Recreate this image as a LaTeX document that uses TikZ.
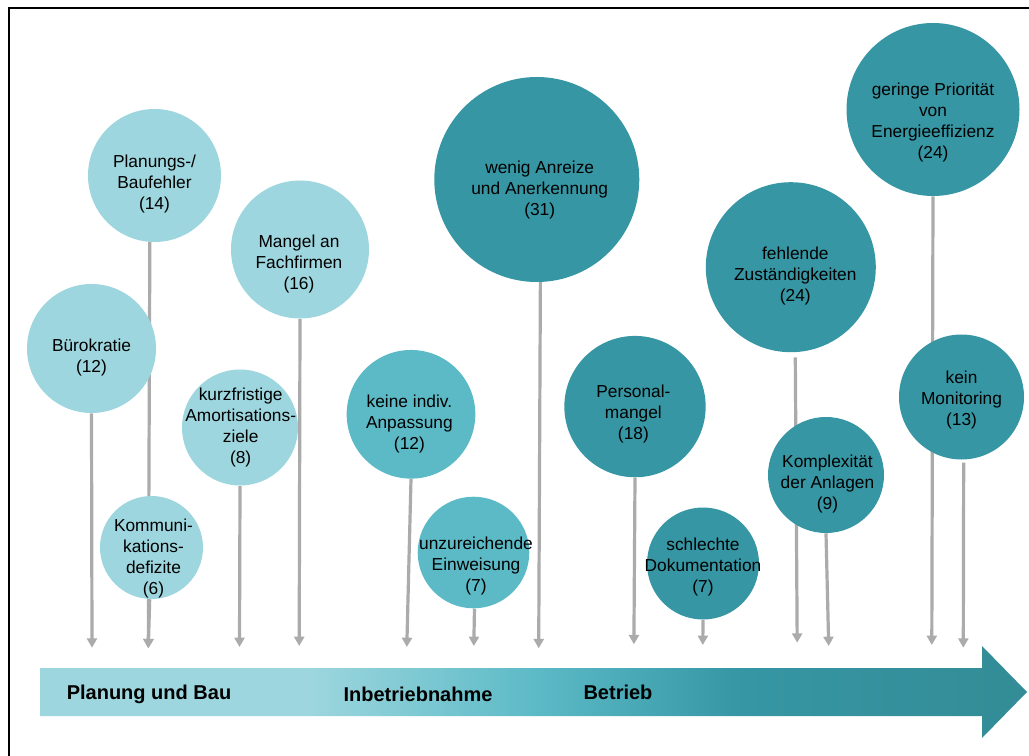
\documentclass[tikz,border=0pt]{standalone}
\usepackage{fontspec}
\setmainfont{Liberation Sans}
\usetikzlibrary{arrows.meta}
\definecolor{cLight}{HTML}{9DD6DE}
\definecolor{cMid}{HTML}{5BBAC6}
\definecolor{cDark}{HTML}{3696A3}
\definecolor{cBarEnd}{HTML}{338C96}
\definecolor{cLine}{HTML}{ABABAB}
\pgfdeclarelayer{bg}
\pgfsetlayers{bg,main}
\pgfdeclarehorizontalshading{timeline}{100bp}{color(0bp)=(cLight); color(38.6bp)=(cLight); color(50.2bp)=(cMid); color(60.5bp)=(cDark); color(75bp)=(cBarEnd); color(100bp)=(cBarEnd)}
\begin{document}
\begin{tikzpicture}[x=0.75pt,y=-0.75pt,
  bubble/.style={circle, draw=none, fill=#1, inner sep=0pt},
  btext/.style={align=center, inner sep=0pt, font=\fontsize{13}{15.75}\selectfont, text=black},
  conn/.style={draw=cLine, line width=2.4pt, -{Triangle[width=7.5pt,length=7pt]}},
  phase/.style={font=\fontsize{15}{18}\selectfont\bfseries, anchor=base, inner sep=0pt, text=black}]
\useasboundingbox (0,0) rectangle (1029,756);
\begin{scope}
  \clip (0,0) rectangle (1029,756);
  \draw[line width=1.5pt] (8.5,8.5) rectangle (1100,800);
\end{scope}

% bubbles
\node[bubble=cLight, minimum size=99.75pt] (n1) at (154.5,175.5) {};
\node[btext, yshift=-6.4pt] (t1) at (n1.center) {Planungs-/\\Baufehler\\(14)};
\node[bubble=cLight, minimum size=96.75pt] (n2) at (91.5,348.5) {};
\node[btext, yshift=-7.1pt] (t2) at (n2.center) {Bürokratie\\(12)};
\node[bubble=cLight, minimum size=103.5pt] (n3) at (300,249.5) {};
\node[btext, yshift=-11.25pt, xshift=-0.75pt] (t3) at (n3.center) {Mangel an\\Fachfirmen\\(16)};
\node[bubble=cLight, minimum size=87pt] (n4) at (240,427.5) {};
\node[btext, xshift=0.5pt] (t4) at (n4.center) {kurzfristige\\Amortisations-\\ziele\\(8)};
\node[bubble=cLight, minimum size=77.25pt] (n5) at (151.5,547.5) {};
\node[btext, yshift=-7.9pt, xshift=1.5pt] (t5) at (n5.center) {Kommuni-\\kations-\\defizite\\(6)};
\node[bubble=cMid, minimum size=96.5pt] (n6) at (411,414.3) {};
\node[btext, yshift=-7.3pt, xshift=-1.2pt] (t6) at (n6.center) {keine indiv.\\Anpassung\\(12)};
\node[bubble=cMid, minimum size=83.7pt] (n7) at (473.5,552.5) {};
\node[btext, yshift=-10.3pt, xshift=1.9pt] (t7) at (n7.center) {unzureichende\\Einweisung\\(7)};
\node[bubble=cDark, minimum size=153.75pt] (n8) at (536.8,179.5) {};
\node[btext, yshift=-7.9pt, xshift=2.2pt] (t8) at (n8.center) {wenig Anreize\\und Anerkennung\\(31)};
\node[bubble=cDark, minimum size=106pt] (n9) at (635,406.6) {};
\node[btext, yshift=-5.9pt, xshift=-1.2pt] (t9) at (n9.center) {Personal-\\mangel\\(18)};
\node[bubble=cDark, minimum size=84pt] (n10) at (703,563.5) {};
\node[btext, yshift=-2.6pt] (t10) at (n10.center) {schlechte\\Dokumentation\\(7)};
\node[bubble=cDark, minimum size=127.5pt] (n11) at (790.8,267.2) {};
\node[btext, yshift=-6.75pt, xshift=3.4pt] (t11) at (n11.center) {fehlende\\Zuständigkeiten\\(24)};
\node[bubble=cDark, minimum size=87pt] (n12) at (826,475) {};
\node[btext, yshift=-7.1pt, xshift=1.1pt] (t12) at (n12.center) {Komplexität\\der Anlagen\\(9)};
\node[bubble=cDark, minimum size=129.75pt] (n13) at (933,109.5) {};
\node[btext, yshift=-10.1pt] (t13) at (n13.center) {geringe Priorität\\von\\Energieeffizienz\\(24)};
\node[bubble=cDark, minimum size=93.75pt] (n14) at (961.5,397) {};
\node[btext, yshift=-2.25pt] (t14) at (n14.center) {kein\\Monitoring\\(13)};

% arrow end points
\coordinate (e1) at (148.3,648.3);
\coordinate (e2) at (92,647.7);
\coordinate (e3) at (299.2,646);
\coordinate (e4) at (239.5,647);
\coordinate (e6) at (406.8,647);
\coordinate (e7) at (473.8,646);
\coordinate (e8) at (538.7,648.3);
\coordinate (e9) at (633.9,644.3);
\coordinate (e10) at (702.8,645);
\coordinate (e11) at (797.2,642.7);
\coordinate (e12) at (828.7,646);
\coordinate (e13) at (931.8,645);
\coordinate (e14) at (963.3,647.7);

\begin{pgfonlayer}{bg}
  \draw[conn] (n1.-94.7) -- (e1);
  \draw[conn] (n5.-92.8) -- (e1);
  \draw[conn] (n2.-90) -- (e2);
  \draw[conn] (n3.-90) -- (e3);
  \draw[conn] (n4.-90.5) -- (e4);
  \draw[conn] (n6.-90.9) -- (e6);
  \draw[conn] (n7.-89.2) -- (e7);
  \draw[conn] (n8.-88.8) -- (e8);
  \draw[conn] (n9.-90) -- (e9);
  \draw[conn] (n10.-90) -- (e10);
  \draw[conn, shorten <=3.75pt] (n11.-87.8) -- (e11);
  \draw[conn] (n12.-90) -- (e12);
  \draw[conn] (n13.-90) -- (e13);
  \draw[conn, shorten <=2.25pt] (n14.-88.6) -- (e14);
\end{pgfonlayer}

% timeline arrow
\shade[shading=timeline] (40,668) -- (982,668) -- (982,646) -- (1027,692) -- (982,738) -- (982,716) -- (40,716) -- cycle;
\node[phase] (p1) at (149,699) {Planung und Bau};
\node[phase] (p2) at (418,701) {Inbetriebnahme};
\node[phase] (p3) at (618,699) {Betrieb};
\end{tikzpicture}
\end{document}
